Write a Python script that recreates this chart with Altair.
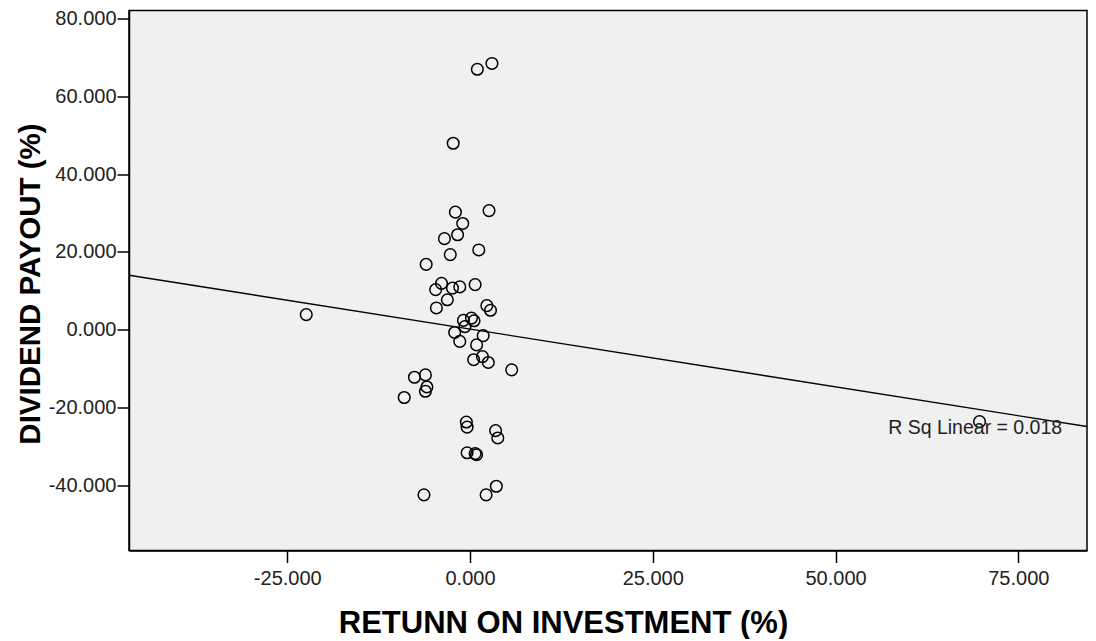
import altair as alt
import pandas as pd

roi = [1.0, 3.0, -2.3, -2.0, 2.6, -1.0, -1.7, -3.5, -2.7, 1.2,
       -6.0, -3.9, -4.7, -2.4, -1.4, 0.7, -3.1, -4.6, 2.3, 2.8,
       -0.9, 0.2, -0.7, -2.1, -1.4, 0.9, 1.8, 0.5, 1.7, 2.5,
       5.7, -7.6, -6.1, -5.9, -6.1, -9.0, -0.5, -0.4, 3.5, 3.8,
       -0.4, 0.7, 0.9, -6.3, 2.2, 3.6, -22.4, 69.7, 0.55]
payout = [66.9, 68.4, 47.9, 30.2, 30.6, 27.3, 24.4, 23.4, 19.3, 20.5,
          16.8, 11.9, 10.3, 10.7, 11.0, 11.6, 7.7, 5.6, 6.2, 5.0,
          2.4, 3.0, 0.8, -0.7, -3.0, -3.9, -1.5, -7.7, -6.9, -8.4,
          -10.3, -12.2, -11.6, -14.7, -15.8, -17.4, -23.7, -25.0, -25.9, -27.8,
          -31.6, -31.8, -32.1, -42.4, -42.4, -40.2, 3.9, -23.6, 2.3]

x_ticks = [-25, 0, 25, 50, 75]
y_ticks = [-40, -20, 0, 20, 40, 60, 80]
x_domain = [-46.65, 84.4]
y_domain = [-56.7, 82.0]
r2_label = ["R Sq Linear = 0.018"]
label_pos = [57.2, -25.2]

df = pd.DataFrame({"roi": roi, "payout": payout})
lab = pd.DataFrame({"x": [label_pos[0]], "y": [label_pos[1]], "t": r2_label})

FONT = "Liberation Sans"
MINUS_FIX = "replace(datum.label, '\u2212', '-')"

xs = alt.Scale(domain=x_domain, nice=False, zero=False)
ys = alt.Scale(domain=y_domain, nice=False, zero=False)

x_axis = alt.Axis(values=x_ticks, format=".3f", labelExpr=MINUS_FIX,
                  title="RETUNN ON INVESTMENT (%)",
                  grid=False, tickSize=12, tickColor="black", tickWidth=1.5,
                  domainColor="black", domainWidth=1.5,
                  labelFont=FONT, labelFontSize=20, labelColor="#222",
                  labelPadding=6,
                  titleFont=FONT, titleFontSize=31, titleFontWeight="bold",
                  titleColor="black", titleX=434, titleY=82,
                  titleBaseline="alphabetic")
y_axis = alt.Axis(values=y_ticks, format=".3f", labelExpr=MINUS_FIX,
                  title="DIVIDEND PAYOUT (%)",
                  grid=False, tickSize=12, tickColor="black", tickWidth=1.5,
                  domainColor="black", domainWidth=1.5,
                  labelFont=FONT, labelFontSize=20, labelColor="#222",
                  labelPadding=1,
                  titleFont=FONT, titleFontSize=29.5, titleFontWeight="bold",
                  titleColor="black", titleX=-99, titleY=273,
                  titleAngle=-90, titleBaseline="middle", titleAlign="center")

base = alt.Chart(df)

pts = base.mark_point(shape="circle", filled=False, size=135,
                      stroke="black", strokeWidth=1.5, opacity=1).encode(
    x=alt.X("roi:Q", scale=xs, axis=x_axis),
    y=alt.Y("payout:Q", scale=ys, axis=y_axis),
)

fit = base.transform_regression("roi", "payout", extent=x_domain).mark_line(
    color="black", strokeWidth=1.4, clip=True).encode(
    x=alt.X("roi:Q", scale=xs),
    y=alt.Y("payout:Q", scale=ys),
)

txt = alt.Chart(lab).mark_text(align="left", baseline="middle", font=FONT,
                               fontSize=19.5, color="#222").encode(
    x=alt.X("x:Q", scale=xs),
    y=alt.Y("y:Q", scale=ys),
    text="t:N",
)

chart = alt.layer(fit, pts, txt).properties(
    width=958, height=540,
    autosize="none",
    padding={"left": 121, "top": 2.5, "right": 1, "bottom": 88},
).configure_view(fill="#f0f0f0", stroke="black", strokeWidth=1.5)

chart.save("out.html", embed_options={"renderer": "svg", "actions": False})
